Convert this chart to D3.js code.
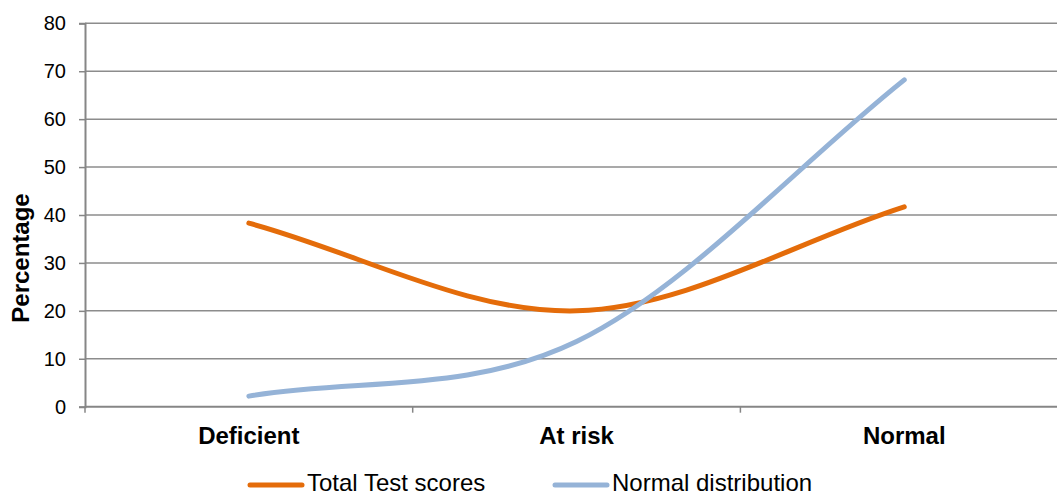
<!DOCTYPE html>
<html>
<head>
<meta charset="utf-8">
<script src="https://cdn.jsdelivr.net/npm/d3@7"></script>
<style>
  html, body { margin: 0; padding: 0; background: #fff; }
  svg { display: block; font-family: "Liberation Sans", Arial, sans-serif; }
</style>
</head>
<body>
<svg id="chart" width="1057" height="494"></svg>
<script>
// Score categories and percentages per series
const categories = ["Deficient", "At risk", "Normal"];
const totalTestScores = [38.3, 20.0, 41.7];
const normalDistribution = [2.2, 13.6, 68.2];
const yTicks = [0, 10, 20, 30, 40, 50, 60, 70, 80];
const seriesNames = ["Total Test scores", "Normal distribution"];
const seriesColors = ["#E46C0A", "#95B3D7"];

const svg = d3.select("#chart");
const plotLeft = 85, plotTop = 23.3, plotBottom = 406.7, band = 327.7;
const plotRight = plotLeft + band * categories.length;

const x = d3.scaleBand().domain(categories).range([plotLeft, plotRight]).padding(0);
const y = d3.scaleLinear().domain([0, 80]).range([plotBottom, plotTop]);

// Smoothed curve: Catmull-Rom tangents inside, chord-directed handles at the ends
function SpreadsheetSmooth(context) { this._context = context; }
SpreadsheetSmooth.prototype = {
  areaStart() { this._line = 0; },
  areaEnd() { this._line = NaN; },
  lineStart() { this._pts = []; },
  point(px, py) { this._pts.push([+px, +py]); },
  lineEnd() {
    const p = this._pts, n = p.length, c = this._context;
    if (!n) return;
    c.moveTo(p[0][0], p[0][1]);
    if (n === 1) return;
    if (n === 2) { c.lineTo(p[1][0], p[1][1]); return; }
    for (let i = 0; i < n - 1; i++) {
      const a = p[i], b = p[i + 1];
      let c1, c2;
      if (i === 0) c1 = [a[0] + (b[0] - a[0]) / 3, a[1] + (b[1] - a[1]) / 3];
      else c1 = [a[0] + (b[0] - p[i - 1][0]) / 6, a[1] + (b[1] - p[i - 1][1]) / 6];
      if (i === n - 2) c2 = [b[0] - (b[0] - a[0]) / 3, b[1] - (b[1] - a[1]) / 3];
      else c2 = [b[0] - (p[i + 2][0] - a[0]) / 6, b[1] - (p[i + 2][1] - a[1]) / 6];
      c.bezierCurveTo(c1[0], c1[1], c2[0], c2[1], b[0], b[1]);
    }
  }
};
const curveSmooth = context => new SpreadsheetSmooth(context);

// horizontal gridlines
svg.append("g").selectAll("line").data(yTicks.filter(d => d > 0)).join("line")
  .attr("x1", plotLeft).attr("x2", plotRight)
  .attr("y1", d => y(d)).attr("y2", d => y(d))
  .attr("stroke", "#8c8c8c").attr("stroke-width", 1.5);

// y axis
const yAxis = svg.append("g").attr("transform", `translate(${plotLeft},0)`)
  .call(d3.axisLeft(y).tickValues(yTicks).tickSize(6).tickPadding(13));
yAxis.select(".domain").attr("stroke", "#868686").attr("stroke-width", 2);
yAxis.selectAll(".tick line").attr("stroke", "#868686").attr("stroke-width", 1.5);
yAxis.selectAll(".tick text").attr("font-size", 20).attr("fill", "#000")
  .attr("font-family", "Liberation Sans, Arial, sans-serif");

// x axis baseline and boundary ticks
svg.append("line").attr("x1", plotLeft).attr("x2", plotRight)
  .attr("y1", plotBottom).attr("y2", plotBottom)
  .attr("stroke", "#868686").attr("stroke-width", 2);
const edges = categories.map(c => x(c)).concat([plotRight]);
svg.append("g").selectAll("line").data(edges).join("line")
  .attr("x1", d => d).attr("x2", d => d)
  .attr("y1", plotBottom).attr("y2", plotBottom + 6)
  .attr("stroke", "#868686").attr("stroke-width", 1.5);

// category labels
svg.append("g").selectAll("text").data(categories).join("text")
  .attr("x", d => x(d) + x.bandwidth() / 2).attr("y", 444)
  .attr("text-anchor", "middle").attr("font-size", 24).attr("font-weight", "bold")
  .text(d => d);

// y axis title
svg.append("text")
  .attr("transform", `translate(29,258) rotate(-90)`)
  .attr("text-anchor", "middle").attr("font-size", 24).attr("font-weight", "bold")
  .text("Percentage");

// smoothed series lines
const line = d3.line()
  .x((d, i) => x(categories[i]) + x.bandwidth() / 2)
  .y(d => y(d))
  .curve(curveSmooth);

[totalTestScores, normalDistribution].forEach((vals, k) => {
  svg.append("path").datum(vals)
    .attr("d", line)
    .attr("fill", "none")
    .attr("stroke", seriesColors[k])
    .attr("stroke-width", 5)
    .attr("stroke-linecap", "round")
    .attr("stroke-linejoin", "round");
});

// legend
const legendX = [250, 555];
const legend = svg.append("g");
seriesNames.forEach((name, k) => {
  legend.append("line")
    .attr("x1", legendX[k]).attr("x2", legendX[k] + 52)
    .attr("y1", 485).attr("y2", 485)
    .attr("stroke", seriesColors[k]).attr("stroke-width", 5)
    .attr("stroke-linecap", "round");
  legend.append("text")
    .attr("x", legendX[k] + 57).attr("y", 491)
    .attr("font-size", 24).text(name);
});
</script>
</body>
</html>
